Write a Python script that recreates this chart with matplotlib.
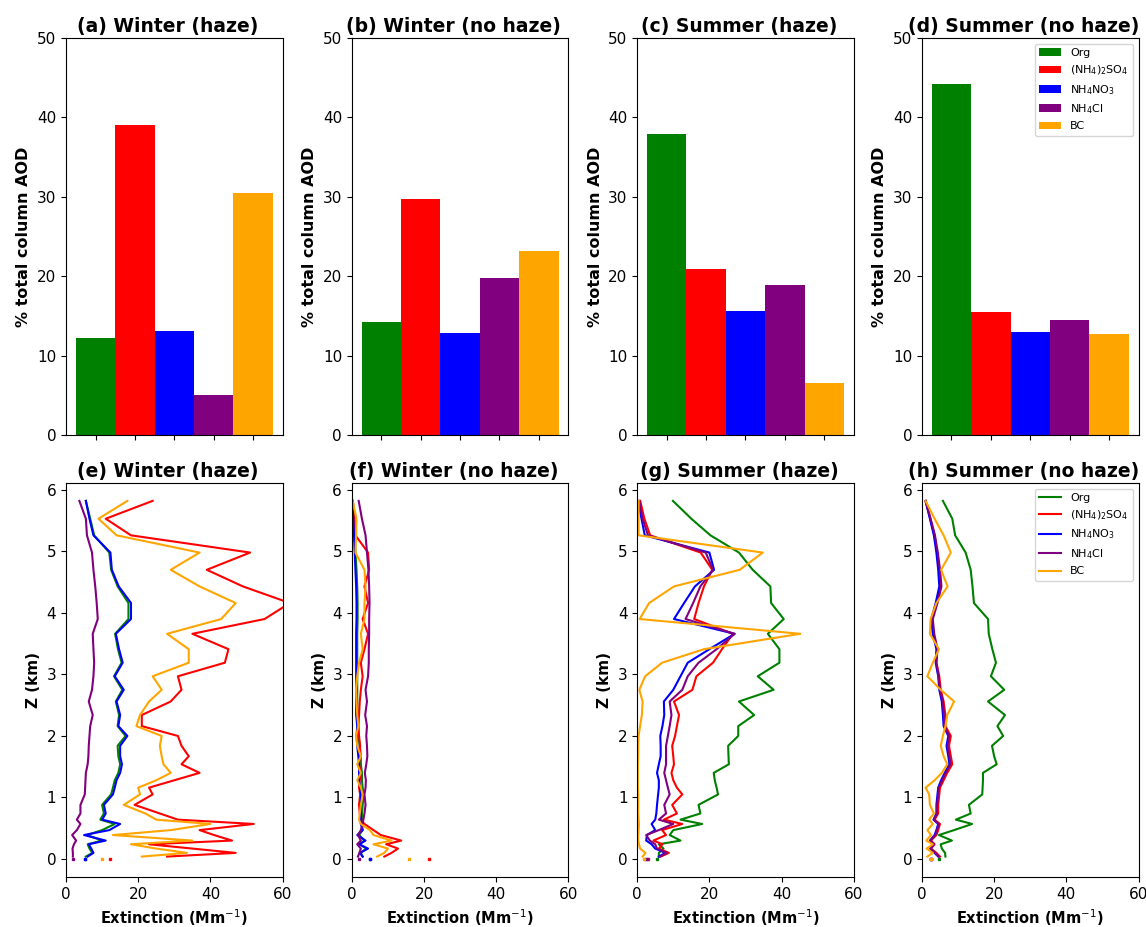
import numpy as np
import matplotlib
matplotlib.use("Agg")
import matplotlib.pyplot as plt

# species and colours
species = ['Org', '(NH$_4$)$_2$SO$_4$', 'NH$_4$NO$_3$', 'NH$_4$Cl', 'BC']
colors = ['green', 'red', 'blue', 'purple', 'orange']

# % of total column AOD
aod_a = [12.2, 39.0, 13.1, 5.0, 30.5]
aod_b = [14.2, 29.7, 12.9, 19.8, 23.2]
aod_c = [37.9, 20.9, 15.6, 18.9, 6.5]
aod_d = [44.2, 15.5, 13.0, 14.5, 12.7]

# model levels (km)
z = [0.04, 0.10, 0.17, 0.24, 0.30, 0.39, 0.47, 0.57, 0.64, 0.74,
     0.88, 1.05, 1.16, 1.28, 1.40, 1.54, 1.67, 1.84, 2.00, 2.16,
     2.34, 2.56, 2.75, 2.97, 3.19, 3.41, 3.66, 3.90, 4.16, 4.43,
     4.70, 4.98, 5.26, 5.53, 5.82]

# (e) winter haze
e_org = [5.5, 7.3, 6.5, 6, 10, 5.8, 10, 13.5, 9.5, 10.5, 10, 12.5, 13, 13.5, 14.5, 15, 14.5, 14.3,
         16.5, 14.3, 14.7, 13.8, 15.6, 13.3, 15.4, 14.4, 13.6, 17.3, 17.3, 14.3, 12.5, 12.0, 7.8, 6.7, 5.5]
e_so4 = [28, 47, 35, 23, 46, 41, 37, 52, 31, 26, 19, 24, 23, 30, 37, 32, 34, 32,
         31, 21, 21, 29, 32, 31, 44, 45, 35, 55, 62, 49, 39, 51, 18, 11, 24]
e_no3 = [6, 7.6, 7, 6.3, 11, 5, 12, 15, 10, 11, 10.5, 13, 13.5, 14, 15, 15.5, 15, 15,
         17, 14.5, 15, 14, 16, 13.5, 15.7, 14.7, 13.8, 18, 18, 14.6, 12.7, 12.3, 7.6, 6.5, 5.5]
e_cl = [1.9, 1.9, 1.8, 2.2, 2.8, 1.7, 3, 4, 3, 4, 4, 5.2, 5.3, 5.4, 5.5, 6, 6.2, 6.3,
        6.5, 6.7, 7.4, 6.3, 7.2, 7.6, 7.8, 7.6, 7.4, 8.8, 8.5, 8.1, 7.6, 7.2, 5.8, 5.5, 3.7]
e_bc = [21, 33.5, 25, 18, 35, 13, 29, 40, 25, 22, 16, 20.5, 20, 25, 29, 27, 26.5, 26,
        26.5, 19.5, 20.5, 23, 26.5, 24, 34, 34, 28, 43, 47, 37, 29, 37, 14, 9, 17]
e_surf = [5.2, 12.2, 5.2, 1.8, 10.1]

# (f) winter no haze
f_org = [3, 2.5, 4, 2.2, 3.5, 2, 3, 2.8, 2.8, 2.8, 3, 3.3, 3, 2.8, 2.8, 2.5, 2.5, 2.2,
         1.8, 1.8, 1.6, 1.5, 1.5, 1.5, 1.5, 1.5, 1.5, 1.6, 1.6, 1.5, 1.3, 1.0, 0.8, 0.5, 0.3]
f_so4 = [9, 11, 12.8, 9.5, 13.7, 8, 6, 3.5, 2.5, 2.2, 2, 2.3, 2, 2.2, 2.5, 2, 2.2, 2.3,
         2, 1.8, 2, 2.2, 2.5, 3, 2.5, 3.5, 4.5, 3, 4.5, 3.5, 4.8, 4.5, 1, 0.8, 0.3]
f_no3 = [3, 2.2, 4.5, 2, 3.8, 1.5, 3, 2.5, 2.5, 2.5, 2.5, 2.5, 2.3, 2, 2, 2, 1.8, 1.5,
         1.3, 1.5, 1.2, 1.2, 1.3, 1.2, 1.2, 1.2, 1.2, 1.3, 1.3, 1.2, 1.0, 0.8, 0.6, 0.4, 0.2]
f_cl = [1.7, 2.1, 2.5, 1.5, 2.5, 1.7, 2.5, 3, 3.2, 3.5, 3.8, 3.5, 3.8, 3.9, 3.6, 4, 4.3, 4.2,
        4, 4.2, 3.7, 4.2, 3.8, 4.5, 4.7, 4.7, 4.8, 4.8, 4.9, 4.8, 4.6, 4.2, 3.8, 2.8, 1.9]
f_bc = [7, 9, 10, 6, 11, 6, 5, 2.5, 2, 2.2, 2.5, 3, 2.5, 1.5, 2.5, 1.5, 2.5, 1.5,
        1.2, 1.8, 1.5, 1.3, 1.2, 1.5, 2, 3, 2.5, 3.5, 3.5, 3.8, 3.5, 1, 1.2, 1.3, 0.2]
f_surf = [4.9, 21.3, 4.9, 2.0, 15.8]

# (g) summer haze
g_org = [6, 6, 7.3, 6, 12, 9, 10, 18, 12, 17.5, 17, 22.4, 22, 21.5, 21.2, 25.4, 25.3, 25.2,
         28, 28, 32.4, 28.2, 37.8, 33.4, 39.4, 39.4, 36.2, 40.6, 37.1, 36.9, 32, 28.2, 20.3, 15, 9.9]
g_so4 = [6.5, 8.8, 6, 7, 4.5, 8, 6.9, 12.5, 7.4, 11, 9.7, 12.5, 11, 10, 9.5, 10.2, 10, 9.7,
         10.5, 11, 11.6, 10.2, 15.3, 16.4, 21, 23.5, 26.5, 15.8, 17, 18.5, 20.8, 17.6, 3.6, 2, 0.85]
g_no3 = [6, 7.8, 5, 4, 2.5, 2.7, 5, 4, 5, 5.3, 5.5, 5.8, 6, 6, 5.5, 6, 6.5, 6.5,
         6.4, 7, 7.5, 7.4, 10, 12, 14, 20, 27, 10.2, 13, 16, 21.3, 20, 2.1, 1.2, 0.3]
g_cl = [6.3, 8.3, 5.5, 5, 3.5, 2.5, 6, 10, 6, 8, 7.5, 9, 8.5, 8, 7.5, 8, 8, 8,
        8.5, 9, 9.5, 9, 12.5, 14, 17, 22, 27, 13.4, 15.5, 17.5, 21, 19, 3, 1.5, 0.6]
g_bc = [1.5, 2.3, 0.8, 0.5, 0.3, 0.3, 0.4, 0.5, 0.4, 0.3, 0.3, 0.3, 0.2, 0.2, 0.2, 0.2, 0.3, 0.3,
        0.4, 0.8, 1.3, 1.5, 0.6, 2.2, 6.9, 18.5, 45.2, 0.7, 3.3, 10.2, 28.4, 34.8, 0.4, 0.4, 0.4]
g_surf = [5.4, 3.1, 2.2, 2.6, 1.8]

# (h) summer no haze
h_org = [6.5, 6.4, 5.5, 5.2, 8.3, 4.7, 8.9, 13.9, 9.4, 13.5, 13, 16.7, 16.8, 16.9, 16.9, 20.7, 20, 19.4,
         22.5, 20.9, 23, 18.3, 22.8, 19.1, 20.5, 19.5, 18.5, 18.3, 14.4, 14, 13.5, 12.1, 9.2, 8.4, 5.8]
h_so4 = [5, 4, 2.5, 3.5, 2.5, 4, 4.5, 5, 3.5, 4.5, 4.5, 4.8, 5, 6, 7, 8.4, 8, 7.5,
         8, 6.5, 6.5, 6, 5.2, 4.8, 4, 4.2, 3.2, 2.8, 4, 5.2, 4.8, 4.2, 3.5, 2.3, 1.0]
h_no3 = [4.5, 3.5, 2.3, 3.2, 2.2, 3.5, 4, 4.5, 3.2, 4, 4, 4.3, 4.5, 5.3, 6.3, 7.6, 7.3, 6.8,
         7.3, 6, 5.8, 5.5, 4.8, 4.5, 3.8, 4, 3, 2.6, 3.8, 4.8, 4.5, 4.0, 3.3, 2.2, 1.0]
h_cl = [4.7, 3.7, 2.4, 3.3, 2.3, 3.7, 4.2, 4.7, 3.3, 4.2, 4.2, 4.5, 4.7, 5.6, 6.6, 7.9, 7.6, 7.1,
        7.6, 6.2, 6.1, 5.8, 5.0, 4.6, 4.0, 4.3, 3.4, 3.0, 4.3, 5.4, 5.0, 4.4, 3.6, 2.4, 1.0]
h_bc = [1.5, 3, 1.3, 3, 1.2, 2.5, 1.5, 3, 2, 3.3, 2.2, 2, 1.0, 3.5, 5.5, 7, 6, 5.2,
        5.8, 6.5, 7, 8.9, 5.2, 1.5, 3, 4.7, 2.2, 2.4, 4, 7.1, 5.3, 8, 6, 3.5, 1.0]
h_surf = [4.7, 2.4, 2.4, 2.4, 2.4]

bar_titles = ['(a) Winter (haze)', '(b) Winter (no haze)', '(c) Summer (haze)', '(d) Summer (no haze)']
line_titles = ['(e) Winter (haze)', '(f) Winter (no haze)', '(g) Summer (haze)', '(h) Summer (no haze)']
bar_data = [aod_a, aod_b, aod_c, aod_d]
profiles = [
    ([e_org, e_so4, e_no3, e_cl, e_bc], e_surf),
    ([f_org, f_so4, f_no3, f_cl, f_bc], f_surf),
    ([g_org, g_so4, g_no3, g_cl, g_bc], g_surf),
    ([h_org, h_so4, h_no3, h_cl, h_bc], h_surf),
]

fig = plt.figure(figsize=(11.46, 9.27), dpi=100)
lefts = [0.0576, 0.307, 0.556, 0.8045]
w = 0.189

# top row: bar charts
for i in range(4):
    ax = fig.add_axes([lefts[i], 0.5307, w, 0.4283])
    x = np.arange(len(species))
    bars = ax.bar(x, bar_data[i], width=1.0, color=colors)
    ax.set_ylim(0, 50)
    ax.set_xticks(x)
    ax.set_xticklabels([''] * len(x))
    ax.set_ylabel('% total column AOD', fontsize=11.5, fontweight='bold')
    ax.set_title(bar_titles[i], fontsize=13.5, fontweight='bold', pad=4, x=0.47)
    ax.tick_params(labelsize=11)
    if i == 3:
        for b, lab in zip(bars, species):
            b.set_label(lab)
        ax.legend(loc='upper right', fontsize=8)

# bottom row: extinction profiles
for i in range(4):
    ax = fig.add_axes([lefts[i], 0.054, w, 0.425])
    lines, surf = profiles[i]
    for vals, col, lab, s in zip(lines, colors, species, surf):
        ax.plot(vals, z, color=col, lw=1.5, label=lab)
        ax.plot([s], [0], color=col, marker='s', ms=2, ls='none')
    ax.set_xlim(0, 60)
    ax.set_xticks([0, 20, 40, 60])
    ax.set_yticks(range(7))
    ax.set_ylabel('Z (km)', fontsize=11, fontweight='bold')
    ax.set_xlabel('Extinction (Mm$^{-1}$)', fontsize=10.5, fontweight='bold')
    ax.set_title(line_titles[i], fontsize=13.5, fontweight='bold', pad=4, x=0.47)
    ax.tick_params(labelsize=11)
    if i == 3:
        ax.legend(loc='upper right', fontsize=8)

plt.savefig('out.png', dpi=100)
plt.close()
